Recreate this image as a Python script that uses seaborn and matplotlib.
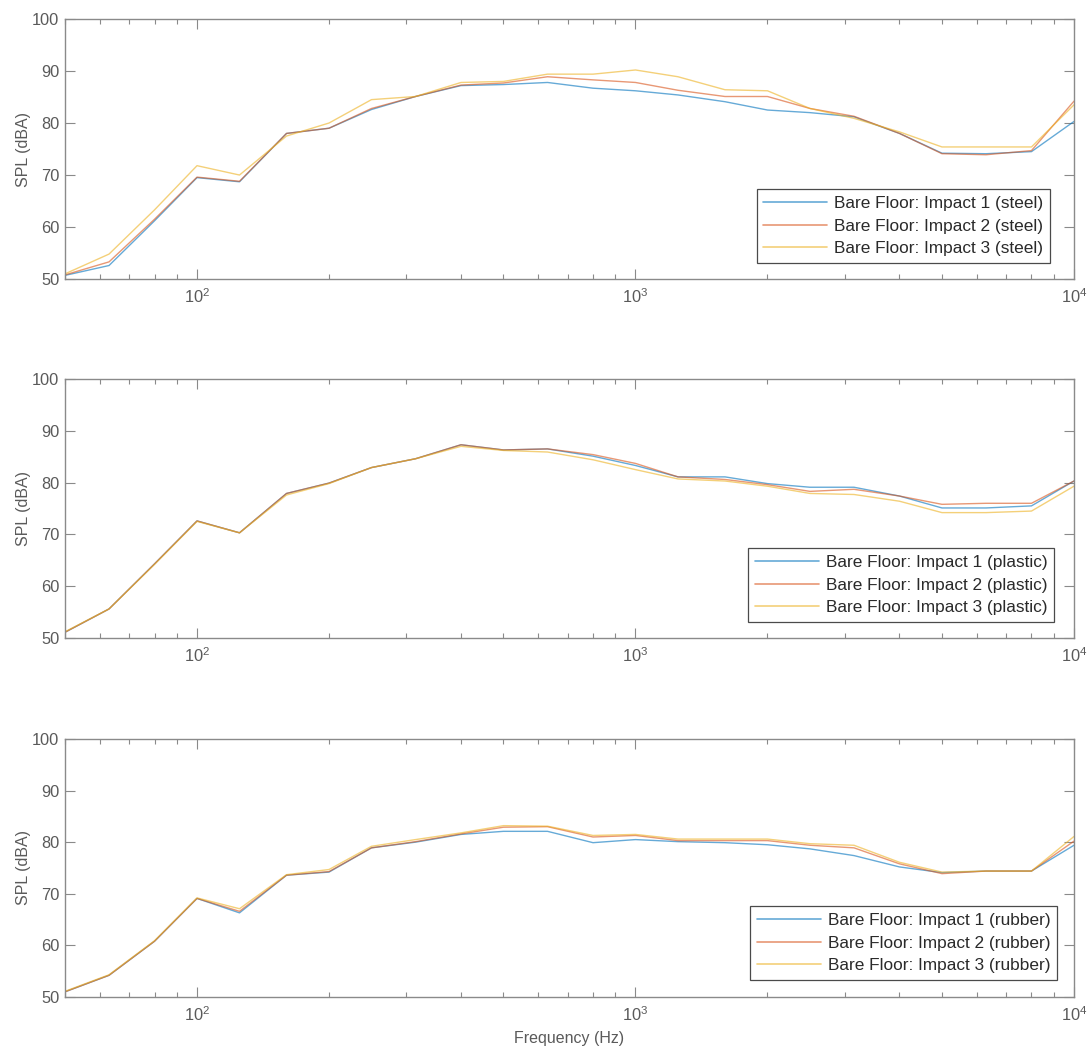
import numpy as np
import pandas as pd
import matplotlib
matplotlib.use("Agg")
import matplotlib.pyplot as plt
import seaborn as sns
from matplotlib.ticker import LogLocator, FixedLocator, NullFormatter

# One-third octave band centre frequencies (Hz)
freqs = [50, 63, 80, 100, 125, 160, 200, 250, 315, 400, 500, 630, 800,
         1000, 1250, 1600, 2000, 2500, 3150, 4000, 5000, 6300, 8000, 10000]

# Steel impactor
steel_1 = [50.7, 52.6, 61.2, 69.5, 68.7, 78.0, 79.0, 82.6, 85.1, 87.2, 87.4, 87.8,
           86.7, 86.2, 85.4, 84.1, 82.5, 82.0, 81.2, 78.0, 74.2, 74.1, 74.5, 80.3]
steel_2 = [50.8, 53.3, 61.5, 69.6, 68.8, 78.0, 79.0, 82.8, 85.1, 87.3, 87.7, 88.9,
           88.3, 87.8, 86.3, 85.1, 85.1, 82.8, 81.3, 78.0, 74.1, 73.9, 74.7, 84.2]
steel_3 = [51.0, 54.8, 63.3, 71.8, 70.0, 77.5, 80.0, 84.5, 85.1, 87.8, 88.0, 89.4,
           89.4, 90.2, 88.9, 86.4, 86.2, 82.8, 80.9, 78.3, 75.4, 75.4, 75.4, 83.5]

# Plastic impactor
plastic_1 = [51.1, 55.6, 64.3, 72.6, 70.3, 77.9, 79.9, 82.9, 84.6, 87.3, 86.3, 86.5,
             85.1, 83.3, 81.1, 81.1, 79.8, 79.1, 79.1, 77.4, 75.1, 75.1, 75.5, 80.3]
plastic_2 = [51.1, 55.6, 64.3, 72.6, 70.3, 77.9, 79.9, 82.9, 84.6, 87.3, 86.3, 86.5,
             85.4, 83.7, 81.1, 80.6, 79.6, 78.3, 78.7, 77.4, 75.8, 76.0, 76.0, 80.3]
plastic_3 = [51.2, 55.6, 64.2, 72.5, 70.3, 77.6, 79.8, 82.9, 84.6, 87.0, 86.2, 85.9,
             84.4, 82.5, 80.7, 80.3, 79.3, 77.9, 77.7, 76.4, 74.2, 74.2, 74.5, 79.3]

# Rubber impactor
rubber_1 = [51.0, 54.2, 60.8, 69.1, 66.3, 73.6, 74.2, 78.9, 80.0, 81.5, 82.1, 82.1,
            79.9, 80.5, 80.1, 79.9, 79.5, 78.7, 77.4, 75.2, 74.1, 74.4, 74.4, 79.4]
rubber_2 = [51.0, 54.2, 60.8, 69.1, 66.6, 73.6, 74.3, 78.9, 80.1, 81.6, 82.9, 83.0,
            81.0, 81.3, 80.3, 80.3, 80.3, 79.4, 78.9, 75.8, 73.9, 74.4, 74.4, 80.2]
rubber_3 = [51.1, 54.3, 60.9, 69.2, 67.1, 73.7, 74.7, 79.2, 80.5, 81.8, 83.2, 83.1,
            81.3, 81.5, 80.6, 80.6, 80.6, 79.7, 79.4, 76.1, 74.2, 74.4, 74.4, 81.1]

materials = ["steel", "plastic", "rubber"]
series = {
    "steel": [steel_1, steel_2, steel_3],
    "plastic": [plastic_1, plastic_2, plastic_3],
    "rubber": [rubber_1, rubber_2, rubber_3],
}

line_colors = ["#0072BD", "#D95319", "#EDB120"]
axis_grey = "#8a8a8a"
text_grey = "#5a5a5a"

sns.set_style("white")
plt.rcParams["font.family"] = ["Liberation Sans", "DejaVu Sans"]
plt.rcParams["mathtext.fontset"] = "custom"
plt.rcParams["mathtext.rm"] = "Liberation Sans"
plt.rcParams["mathtext.it"] = "Liberation Sans"


def pow10_label(val, pos):
    exp = int(round(np.log10(val)))
    return r"$\mathregular{10^{%d}}$" % exp


fig = plt.figure(figsize=(10.89, 10.51), dpi=100)

# axes rectangles in figure fractions
left, right = 0.0597, 0.9862
rects = [
    (0.7345, 0.9819),
    (0.3930, 0.6394),
    (0.0514, 0.2969),
]
legend_anchor = [(0.976, 0.062), (0.980, 0.062), (0.983, 0.066)]

for i, mat in enumerate(materials):
    b, t = rects[i]
    ax = fig.add_axes([left, b, right - left, t - b])

    labels = [f"Bare Floor: Impact {k + 1} ({mat})" for k in range(3)]
    frames = []
    for k in range(3):
        frames.append(pd.DataFrame({
            "Frequency": freqs,
            "SPL": series[mat][k],
            "Series": labels[k],
        }))
    df = pd.concat(frames, ignore_index=True)

    sns.lineplot(data=df, x="Frequency", y="SPL", hue="Series",
                 hue_order=labels, palette=line_colors, linewidth=1.0,
                 alpha=0.6, sort=True, ax=ax)

    ax.set_xscale("log")
    ax.set_xlim(50, 10000)
    ax.set_ylim(50, 100)
    ax.yaxis.set_major_locator(FixedLocator([50, 60, 70, 80, 90, 100]))
    ax.xaxis.set_major_locator(FixedLocator([100, 1000, 10000]))
    ax.xaxis.set_major_formatter(matplotlib.ticker.FuncFormatter(pow10_label))
    ax.xaxis.set_minor_locator(LogLocator(base=10, subs=np.arange(2, 10), numticks=20))
    ax.xaxis.set_minor_formatter(NullFormatter())

    for sp in ax.spines.values():
        sp.set_visible(True)
        sp.set_color(axis_grey)
        sp.set_linewidth(1.0)

    ax.tick_params(which="major", direction="in", length=7, width=0.8,
                   colors=axis_grey, labelcolor=text_grey, labelsize=11.8,
                   top=True, right=True, bottom=True, left=True, pad=4)
    ax.tick_params(axis="x", which="major", pad=6)
    ax.tick_params(which="minor", axis="x", direction="in", length=3.5,
                   width=0.8, colors=axis_grey, top=True, bottom=True)
    ax.tick_params(axis="y", which="minor", left=False, right=False)

    ax.set_ylabel("SPL (dBA)", fontsize=11.5, color=text_grey, labelpad=1)
    if i == 2:
        ax.set_xlabel("Frequency (Hz)", fontsize=11.5, color=text_grey, labelpad=5)
    else:
        ax.set_xlabel("")

    handles, labs = ax.get_legend_handles_labels()
    leg = ax.legend(handles, labs, loc="lower right",
                    bbox_to_anchor=legend_anchor[i], borderaxespad=0,
                    fontsize=12.4, handlelength=3.7, handletextpad=0.4,
                    labelspacing=0.45, borderpad=0.38, fancybox=False,
                    framealpha=1.0, edgecolor="#4a4a4a")
    leg.get_frame().set_linewidth(0.9)
    for txt in leg.get_texts():
        txt.set_color("#2a2a2a")
    for ln in leg.get_lines():
        ln.set_linewidth(1.2)

fig.savefig("out.png", dpi=100)
